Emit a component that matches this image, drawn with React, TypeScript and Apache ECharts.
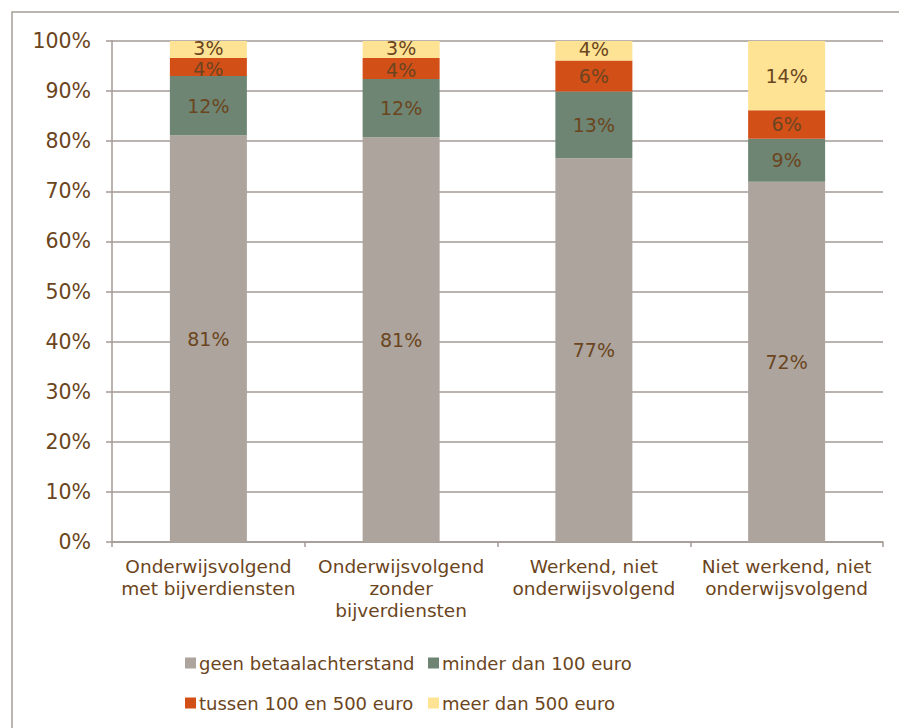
import React, { useEffect, useRef } from "react";
import * as echarts from "echarts";

const categories = [
  "Onderwijsvolgend\nmet bijverdiensten",
  "Onderwijsvolgend\nzonder\nbijverdiensten",
  "Werkend, niet\nonderwijsvolgend",
  "Niet werkend, niet\nonderwijsvolgend",
];
const seriesNames = [
  "geen betaalachterstand",
  "minder dan 100 euro",
  "tussen 100 en 500 euro",
  "meer dan 500 euro",
];
const geen = [81.2, 80.8, 76.6, 71.9];
const minder = [11.8, 11.6, 13.3, 8.6];
const tussen = [3.6, 4.2, 6.2, 5.7];
const meer = [3.4, 3.4, 3.9, 13.8];
const colors = ["#aca49d", "#6e8573", "#d24f18", "#fde393"];

const TEXT = "#6b4520";
const FONT = "DejaVu Sans";

export default function App() {
  const ref = useRef<HTMLDivElement>(null);
  useEffect(() => {
    if (!ref.current) return;
    const chart = echarts.init(ref.current, null, { renderer: "svg" });
    const values = [geen, minder, tussen, meer];
    const legendPos = [
      { left: 185, top: 654 },
      { left: 428, top: 654 },
      { left: 185, top: 694 },
      { left: 428, top: 694 },
    ];
    // small labels in thin segments are nudged apart so they do not collide
    const nudge = (si: number, v: number) => {
      if (v >= 5) return 0;
      if (si === 3) return -1.5;
      if (si === 2) return 1.5;
      return 0;
    };
    chart.setOption({
      animation: false,
      grid: { left: 112, right: 16, top: 41, bottom: 186, containLabel: false },
      legend: seriesNames.map((n, i) => ({
        data: [n],
        left: legendPos[i].left,
        top: legendPos[i].top,
        padding: 0,
        icon: "rect",
        itemWidth: 11,
        itemHeight: 11,
        itemGap: 0,
        textStyle: { color: TEXT, fontFamily: FONT, fontSize: 18, padding: [0, 0, 0, -2] },
      })),
      graphic: [
        {
          type: "rect",
          shape: { x: 12, y: 12, width: 950, height: 800 },
          style: { fill: "none", stroke: "#a69e98", lineWidth: 1.5 },
          silent: true,
        },
      ],
      xAxis: {
        type: "category",
        data: categories,
        axisLine: { show: true, lineStyle: { color: "#a39a94", width: 1.5 } },
        axisTick: { show: true, length: 5, lineStyle: { color: "#a39a94", width: 1.5 } },
        axisLabel: {
          color: TEXT,
          fontFamily: FONT,
          fontSize: 18.5,
          lineHeight: 22,
          margin: 13,
          interval: 0,
        },
      },
      yAxis: {
        type: "value",
        min: 0,
        max: 100,
        interval: 10,
        axisLine: { show: true, lineStyle: { color: "#a39a94", width: 1.5 } },
        axisTick: { show: true, length: 6, lineStyle: { color: "#a39a94", width: 1.5 } },
        splitLine: { show: true, lineStyle: { color: "#a39a94", width: 1.5 } },
        axisLabel: {
          color: TEXT,
          fontFamily: FONT,
          fontSize: 20.5,
          margin: 21,
          formatter: "{value}%",
        },
      },
      series: seriesNames.map((n, si) => ({
        name: n,
        type: "bar",
        stack: "total",
        barWidth: 77,
        data: values[si].map((v) => ({
          value: v,
          label: { offset: [0, nudge(si, v)] },
        })),
        itemStyle: { color: colors[si] },
        label: {
          show: true,
          position: "inside",
          color: TEXT,
          fontFamily: FONT,
          fontSize: 19,
          lineHeight: 15,
          formatter: (p: any) => Math.round(p.value) + "%",
        },
      })),
    });
    return () => chart.dispose();
  }, []);
  return (
    <div
      ref={ref}
      style={{ position: "fixed", left: 0, top: 0, width: 899, height: 728, background: "#fff" }}
    />
  );
}
